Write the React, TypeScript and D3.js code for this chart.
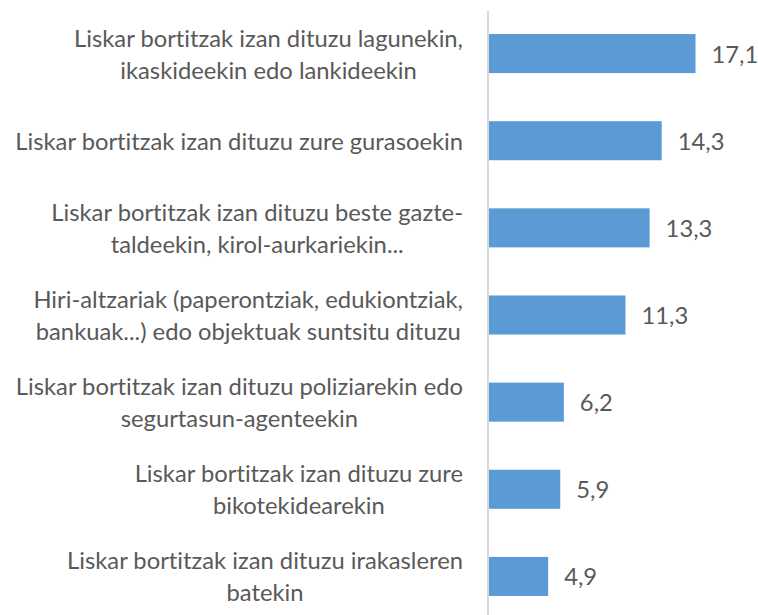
import React, { useEffect, useRef } from 'react';
import * as d3 from 'd3';

const categories = [
    ['Liskar bortitzak izan dituzu lagunekin,', 'ikaskideekin edo lankideekin'],
    ['Liskar bortitzak izan dituzu zure gurasoekin'],
    ['Liskar bortitzak izan dituzu beste gazte-', 'taldeekin, kirol-aurkariekin...'],
    ['Hiri-altzariak (paperontziak, edukiontziak,', 'bankuak...) edo objektuak suntsitu dituzu'],
    ['Liskar bortitzak izan dituzu poliziarekin edo', 'segurtasun-agenteekin'],
    ['Liskar bortitzak izan dituzu zure', 'bikotekidearekin'],
    ['Liskar bortitzak izan dituzu irakasleren', 'batekin'],
];
const values = [17.1, 14.3, 13.3, 11.3, 6.2, 5.9, 4.9];
const valueLabels = ['17,1', '14,3', '13,3', '11,3', '6,2', '5,9', '4,9'];

const WIDTH = 758;
const HEIGHT = 615;
const FONT = 'Lato, "Open Sans", sans-serif';
const TEXT = '#595959';

export default function App() {
    const ref = useRef<SVGSVGElement>(null);

    useEffect(() => {
        const svg = d3.select(ref.current);
        svg.selectAll('*').remove();

        const ids = categories.map((_, i) => String(i));

        const x = d3.scaleLinear().domain([0, 17.1]).range([489, 695.5]);
        const y = d3
            .scaleBand()
            .domain(ids)
            .range([10, 620])
            .paddingInner(0.552)
            .paddingOuter(0.276);

        // fit font size so the single-line label spans like the original (~448px)
        const probe = svg
            .append('text')
            .attr('font-family', FONT)
            .attr('font-size', 20)
            .style('font-variant-ligatures', 'none')
            .text(categories[1][0]);
        const w = (probe.node() as SVGTextElement).getComputedTextLength();
        probe.remove();
        const fontSize = 20 * 448 / w;
        const lineGap = 32;
        const labelRight = 463;

        svg.append('g')
            .selectAll('rect')
            .data(values)
            .join('rect')
            .attr('x', x(0))
            .attr('y', (_, i) => y(ids[i]) as number)
            .attr('width', d => x(d) - x(0))
            .attr('height', y.bandwidth())
            .attr('fill', '#5b9bd5');

        svg.append('line')
            .attr('x1', 488)
            .attr('x2', 488)
            .attr('y1', 11)
            .attr('y2', HEIGHT)
            .attr('stroke', '#d9d9d9')
            .attr('stroke-width', 2);

        const labels = svg.append('g')
            .attr('font-family', FONT)
            .attr('font-size', fontSize)
            .style('font-variant-ligatures', 'none')
            .attr('fill', TEXT);

        categories.forEach((lines, i) => {
            const cy = (y(ids[i]) as number) + y.bandwidth() / 2;
            const g = labels.append('g');
            const texts = lines.map((line, j) =>
                g.append('text')
                    .attr('y', cy + (j - (lines.length - 1) / 2) * lineGap)
                    .attr('dominant-baseline', 'central')
                    .attr('text-anchor', 'middle')
                    .text(line)
            );
            const widths = texts.map(t => (t.node() as SVGTextElement).getComputedTextLength());
            const blockW = d3.max(widths) as number;
            texts.forEach(t => t.attr('x', labelRight - blockW / 2));
        });

        svg.append('g')
            .attr('font-family', FONT)
            .attr('font-size', fontSize)
            .attr('fill', TEXT)
            .selectAll('text')
            .data(values)
            .join('text')
            .attr('x', d => x(d) + 16)
            .attr('y', (_, i) => (y(ids[i]) as number) + y.bandwidth() / 2)
            .attr('dominant-baseline', 'central')
            .text((_, i) => valueLabels[i]);
    }, []);

    return (
        <svg
            ref={ref}
            width={WIDTH}
            height={HEIGHT}
            style={{ position: 'absolute', left: 0, top: 0, background: '#fff' }}
        />
    );
}
